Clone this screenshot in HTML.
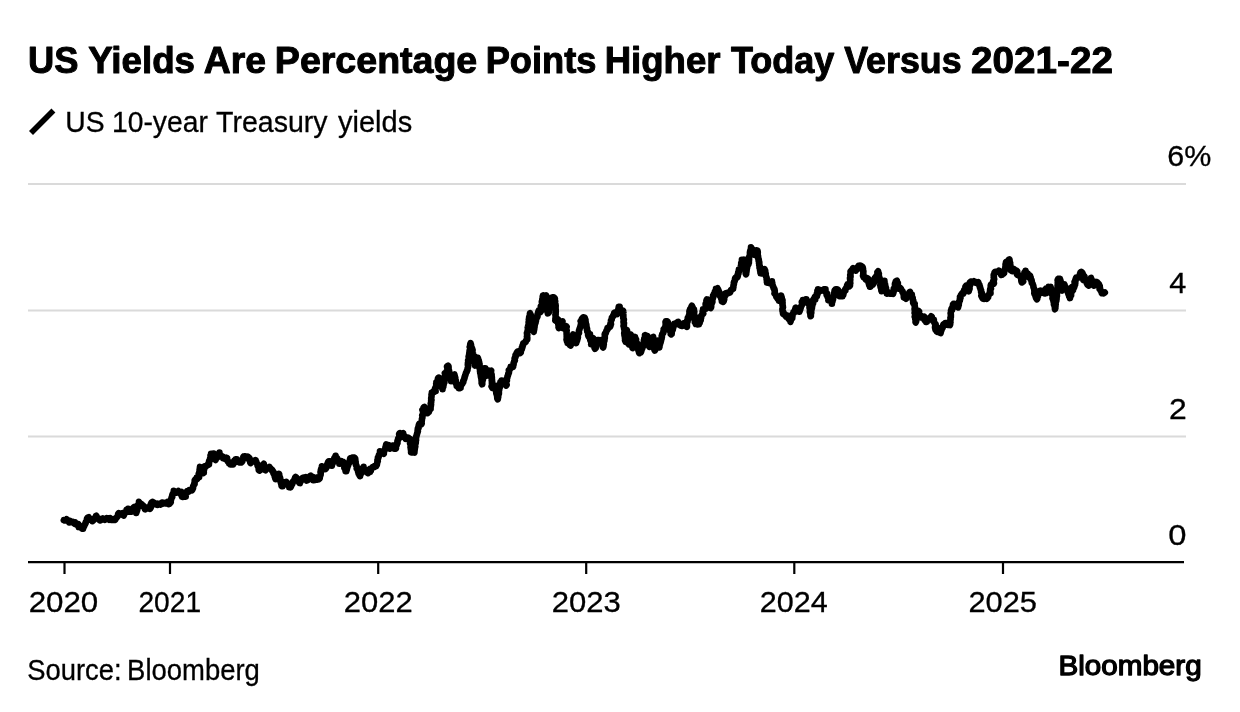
<!DOCTYPE html>
<html lang="en">
<head>
<meta charset="utf-8">
<title>US Yields Are Percentage Points Higher Today Versus 2021-22</title>
<style>
html,body{margin:0;padding:0;background:#fff;}
body{width:1240px;height:712px;overflow:hidden;position:relative;font-family:"Liberation Sans",Arial,Helvetica,sans-serif;color:#000;}
svg{position:absolute;left:0;top:0;display:block;}
text{font-family:"Liberation Sans",Arial,Helvetica,sans-serif;fill:#000;}
.title{font-weight:bold;font-size:37.2px;stroke:#000;stroke-width:1px;stroke-linejoin:round;}
.legend{font-size:30.2px;stroke:#000;stroke-width:0.3px;}
.tick{font-size:29.3px;stroke:#000;stroke-width:0.3px;}
.src{font-size:29.3px;stroke:#000;stroke-width:0.3px;}
.logo{font-size:27.5px;stroke:#000;stroke-width:1.3px;stroke-linejoin:round;}
</style>
</head>
<body>
<svg width="1240" height="712" viewBox="0 0 1240 712" role="img" aria-label="Line chart of US 10-year Treasury yields, 2020 to 2025">
<rect width="1240" height="712" fill="#fff"/>
<text class="title" y="73.4"><tspan x="27.93" textLength="50.45" lengthAdjust="spacingAndGlyphs">US</tspan> <tspan x="88.2" textLength="106.82" lengthAdjust="spacingAndGlyphs">Yields</tspan> <tspan x="203.76" textLength="62.21" lengthAdjust="spacingAndGlyphs">Are</tspan> <tspan x="274.85" textLength="202.42" lengthAdjust="spacingAndGlyphs">Percentage</tspan> <tspan x="485.7" textLength="110.78" lengthAdjust="spacingAndGlyphs">Points</tspan> <tspan x="604.71" textLength="115.78" lengthAdjust="spacingAndGlyphs">Higher</tspan> <tspan x="730.95" textLength="103.36" lengthAdjust="spacingAndGlyphs">Today</tspan> <tspan x="844.17" textLength="117.4" lengthAdjust="spacingAndGlyphs">Versus</tspan> <tspan x="971.07" textLength="141.82" lengthAdjust="spacingAndGlyphs">2021-22</tspan></text>
<line x1="31" y1="133.1" x2="53.4" y2="110.6" stroke="#000" stroke-width="5.6"/>
<text class="legend" y="131.7"><tspan x="65.37" textLength="39.36" lengthAdjust="spacingAndGlyphs">US</tspan> <tspan x="111.96" textLength="95.86" lengthAdjust="spacingAndGlyphs">10-year</tspan> <tspan x="216.1" textLength="111.53" lengthAdjust="spacingAndGlyphs">Treasury</tspan> <tspan x="337.97" textLength="74.17" lengthAdjust="spacingAndGlyphs">yields</tspan></text>
<g stroke="#dadada" stroke-width="2.2">
<line x1="28" y1="184" x2="1186" y2="184"/>
<line x1="28" y1="310.5" x2="1186" y2="310.5"/>
<line x1="28" y1="436.5" x2="1186" y2="436.5"/>
</g>
<path fill="none" stroke="#000" stroke-width="6.6" stroke-linejoin="round" stroke-linecap="round" d="M63.8,520.2 64.7,520.5 65.6,520.5 66.6,519.3 67.5,520.6 68.2,521.0 69.6,520.9 69.4,522.5 70.4,521.2 71.2,522.0 72.1,522.2 73.0,521.8
73.8,523.1 75.2,522.4 75.2,524.1 76.3,523.9 77.2,524.2 77.5,525.0 78.4,524.2 78.5,525.6 78.7,527.0 80.2,526.3 80.5,527.5 81.7,527.3
81.9,528.6 83.1,528.7 83.2,527.9 83.7,527.1 84.0,526.3 84.5,525.5 84.6,524.6 85.2,523.9 85.7,523.1 85.7,522.1 86.2,521.4 86.6,520.5
86.9,519.7 87.0,518.7 87.4,517.9 88.1,517.6 88.7,517.3 88.8,518.6 89.3,519.5 90.1,519.9 91.6,519.4 92.3,520.0 92.5,521.2 93.1,520.5
93.7,519.8 93.7,518.8 94.5,518.2 95.4,517.7 95.8,516.9 96.4,516.2 96.2,515.7 96.5,516.2 96.7,517.2 97.2,517.9 98.1,518.4 99.1,518.7
99.3,519.8 100.0,520.5 100.7,520.2 101.3,519.2 102.1,519.0 102.9,518.4 103.8,518.8 104.9,519.8 105.8,519.2 106.7,518.3 107.6,519.0 108.5,518.4
108.8,518.8 109.3,519.7 110.4,518.3 111.0,520.0 111.9,520.0 112.9,519.6 113.7,520.0 114.8,519.4 115.0,519.9 115.4,519.4 115.5,518.4 116.3,517.9
117.0,517.2 117.5,516.5 118.0,515.7 118.0,514.7 118.2,513.8 118.8,513.2 119.7,513.7 120.7,513.6 121.8,513.5 123.0,512.9 122.9,515.2 123.8,515.5
123.6,514.3 124.3,513.6 124.7,512.8 125.9,512.6 126.1,511.6 126.6,510.9 126.6,509.8 128.2,509.7 128.1,508.8 128.0,510.4 128.6,511.1 129.3,511.6
131.3,510.9 131.2,511.8 131.5,511.6 132.3,511.1 132.8,510.3 133.0,509.4 133.8,508.8 133.5,507.6 134.4,506.9 134.7,507.6 135.8,508.2 135.0,509.4
135.8,510.1 136.6,510.8 136.1,511.9 136.2,513.0 136.4,512.3 136.7,511.5 137.0,510.6 137.3,509.8 137.2,508.8 137.7,508.0 137.7,507.1 138.0,506.2
138.0,505.3 138.3,504.4 138.8,503.6 139.1,502.8 139.0,501.9 139.5,502.7 140.2,503.3 141.0,503.8 141.8,504.4 142.2,505.2 143.2,505.6 143.6,506.4
144.0,507.2 144.5,508.0 145.5,508.3 145.0,509.3 145.3,508.2 146.3,508.6 147.1,507.6 148.0,507.7 149.0,508.5 150.0,508.8 150.5,508.1 150.9,507.3
150.9,506.4 150.6,505.3 150.7,504.3 151.6,503.7 151.4,502.7 152.5,501.9 153.0,502.3 153.9,502.6 154.3,503.8 155.0,504.2 156.3,503.9 157.5,503.6
157.5,504.9 158.4,503.8 159.5,504.4 160.5,504.7 161.2,503.7 161.9,502.6 162.5,503.8 162.9,502.6 163.9,503.1 164.8,502.9 165.7,503.5 166.6,502.9
167.4,502.1 168.5,504.1 169.4,504.0 170.0,503.1 170.8,502.2 170.5,501.2 170.9,500.3 171.1,499.5 171.4,498.6 171.5,497.7 172.3,497.0 172.1,496.0
172.3,495.1 172.7,494.3 173.0,493.5 173.8,492.8 173.8,491.8 173.8,490.7 174.4,491.2 175.1,491.8 175.9,492.3 176.7,492.6 178.3,491.1 178.7,492.4
179.7,492.5 180.0,493.1 181.6,492.0 181.5,493.4 181.3,494.9 181.8,495.7 182.0,496.8 182.7,496.9 183.8,496.8 184.3,496.6 185.7,496.6 185.7,495.4
185.5,494.1 186.0,493.3 186.1,492.3 187.5,492.2 187.5,491.0 189.2,491.3 189.4,490.1 190.2,490.2 191.0,489.7 192.1,490.2 192.5,489.3 193.0,488.3
193.1,487.3 193.1,486.4 193.5,485.6 194.0,484.8 194.6,484.0 194.4,483.0 194.7,482.2 194.7,481.3 194.7,480.3 195.0,480.0 195.2,479.5 196.4,479.4
197.3,479.0 196.9,477.4 197.9,477.1 199.1,477.0 198.8,476.2 198.8,475.7 199.1,474.8 198.7,473.8 199.3,473.0 199.3,472.1 199.8,471.3 199.6,470.3
199.6,469.4 200.1,468.6 199.9,467.6 200.0,466.9 200.5,467.8 200.7,468.7 201.9,469.1 202.2,470.0 201.7,471.2 202.2,472.0 202.4,472.9 203.1,473.1
203.8,472.8 203.6,471.9 203.8,471.0 203.8,470.0 204.2,469.2 203.5,468.1 204.7,467.5 204.2,466.4 205.0,466.2 205.5,466.2 206.4,466.0 207.0,465.2
208.1,465.0 208.9,464.5 208.4,463.4 209.2,462.7 209.1,461.7 209.1,460.8 210.0,460.1 210.6,459.3 210.0,458.8 210.2,458.3 210.7,457.5 210.6,456.5
210.5,455.4 211.1,454.7 211.1,453.7 212.5,453.8 213.7,453.6 213.6,454.7 213.8,455.6 213.7,456.6 214.8,457.1 214.1,458.5 214.7,459.2 215.6,459.9
215.8,459.2 215.9,458.2 217.0,457.8 216.7,456.6 217.2,455.9 217.8,455.2 218.1,454.3 219.1,453.8 219.4,452.9 219.4,452.6 219.3,453.4 219.6,454.2
220.3,454.9 221.0,455.5 221.3,456.4 222.7,456.6 223.0,457.4 223.1,458.1 223.3,457.6 224.4,458.6 225.2,458.2 226.2,457.6 227.0,458.0 226.2,459.5
227.5,459.8 227.6,460.8 227.9,461.6 228.8,461.9 229.0,463.4 230.1,463.5 230.4,464.4 231.9,464.3 233.2,464.4 233.6,463.5 233.6,462.4 234.0,461.5
234.3,460.6 235.4,460.4 235.6,459.3 236.2,459.4 236.9,459.4 237.1,460.6 237.4,461.6 238.5,461.7 239.4,462.4 240.2,462.5 241.1,462.5 241.9,461.9
242.4,461.2 242.0,460.1 243.0,459.5 243.3,458.7 244.4,458.1 243.4,456.8 243.8,456.3 244.1,456.3 245.1,456.2 245.9,456.6 246.8,456.9 247.7,456.6
248.1,456.9 248.5,457.3 249.3,457.9 248.7,459.1 249.3,459.8 250.2,460.5 250.3,461.4 250.2,462.4 250.6,463.1 250.8,461.6 251.7,461.3 252.4,460.7
253.5,460.8 254.7,461.1 255.4,460.5 255.6,460.1 255.8,460.6 256.2,461.4 256.2,462.4 256.7,463.2 257.3,463.9 257.7,464.7 257.6,465.7 258.1,466.5
258.4,467.3 258.8,468.2 258.7,469.1 258.7,470.1 259.4,470.6 260.4,470.0 259.9,468.6 261.2,468.3 261.9,467.7 262.3,466.9 262.0,465.6 262.7,465.0
263.4,464.4 263.8,463.8 263.6,464.9 264.0,465.8 264.7,466.6 264.8,467.5 263.5,468.6 264.4,469.4 265.0,469.9 265.5,470.2 265.3,468.2 266.5,468.4
267.5,468.2 268.7,468.5 269.1,467.4 269.4,466.9 269.3,467.4 269.8,468.1 270.8,468.5 271.2,469.4 272.2,469.8 272.2,470.9 272.5,471.2 273.2,471.4
273.6,472.2 273.4,473.3 273.9,474.0 274.3,474.8 274.8,475.6 274.7,476.6 275.1,477.4 275.6,478.2 275.6,479.3 275.2,478.1 275.8,477.4 276.2,476.7
277.0,476.1 277.4,475.2 278.5,474.9 278.9,474.1 279.0,473.8 279.2,474.4 279.2,475.3 279.3,476.2 279.8,477.0 280.1,477.9 280.3,478.7 280.2,479.7
280.7,480.5 280.8,481.4 280.7,482.3 281.0,483.2 281.3,484.1 281.5,484.9 281.5,485.8 281.9,486.2 282.7,486.3 283.0,485.4 283.8,484.9 283.3,483.2
283.7,482.2 285.1,482.3 286.2,481.9 286.7,482.4 287.2,483.1 287.6,483.9 288.9,484.1 289.6,484.7 289.6,485.8 289.3,487.3 290.6,487.4 290.9,486.6
291.3,485.8 291.5,484.9 292.2,484.2 292.5,483.4 292.7,482.5 292.9,481.6 293.7,481.0 294.3,480.3 294.5,479.3 294.9,478.5 295.1,477.6 295.6,476.9
296.3,477.5 296.3,478.6 297.2,479.1 298.5,479.3 298.7,480.2 298.8,481.3 299.0,482.2 299.5,483.0 300.0,483.1 300.1,482.6 300.0,481.4 300.9,480.9
301.6,480.3 301.2,478.9 302.1,478.5 302.7,477.7 303.8,477.6 305.6,477.2 305.9,478.2 306.1,479.3 306.8,479.8 306.9,480.6 307.2,480.4 308.1,479.9
308.4,479.1 309.1,478.4 309.8,477.9 309.9,476.8 310.2,475.9 310.6,475.7 310.5,476.5 311.2,477.1 312.7,476.8 312.5,478.3 312.9,479.2 313.2,480.2
315.0,479.9 315.6,479.5 317.1,479.6 316.5,477.9 316.9,477.6 317.4,477.5 318.4,477.5 318.6,479.3 319.4,478.7 319.7,478.4 319.8,477.5 319.9,476.6
320.3,475.7 320.6,474.9 320.7,474.0 320.7,473.1 320.5,472.1 320.8,471.2 320.8,470.3 321.0,469.5 321.3,468.6 321.6,467.7 321.8,466.9 321.9,466.3
322.0,466.6 321.9,468.0 323.3,467.9 324.7,467.8 325.0,468.8 325.0,469.3 325.0,468.7 326.1,468.2 325.9,467.2 326.7,466.5 326.6,465.5 327.1,464.7
327.4,463.9 328.1,463.2 328.0,462.2 328.8,461.3 329.9,461.4 330.2,462.3 330.6,463.1 330.3,464.4 330.3,465.5 331.9,465.6 332.0,464.8 332.3,464.0
332.6,463.1 333.3,462.4 333.8,461.7 333.7,460.7 334.2,459.9 334.1,458.9 334.4,458.0 334.9,457.3 335.5,456.5 335.6,455.7 335.6,456.8 336.3,457.5
337.1,458.1 337.4,459.0 337.6,459.8 337.8,460.7 338.0,461.6 338.8,462.2 339.4,463.0 339.4,463.7 340.3,462.9 341.0,462.4 341.4,461.2 343.2,462.7
343.1,461.9 343.6,462.4 342.9,463.5 343.5,464.3 344.0,465.1 344.3,465.9 344.8,466.7 344.3,467.8 344.7,468.6 345.4,469.4 345.8,470.2 345.6,471.2
346.2,471.2 346.2,470.9 346.7,470.1 346.8,469.2 347.1,468.4 347.3,467.5 347.6,466.6 347.9,465.8 348.3,465.0 348.4,464.0 349.0,463.3 349.4,462.5
349.6,461.6 349.7,460.7 350.0,459.8 350.0,459.4 350.2,458.5 350.9,458.0 352.0,458.2 352.5,457.5 353.4,457.5 354.4,457.6 355.2,458.6 355.3,459.5
355.4,460.4 355.3,461.3 355.7,462.1 355.5,463.2 355.9,464.0 355.9,464.9 356.5,465.7 356.7,466.5 356.9,467.5 356.7,468.5 357.7,469.1 357.6,470.0
358.4,470.7 358.1,471.8 358.5,472.6 358.5,473.5 359.6,474.1 359.4,475.1 359.9,475.9 360.0,476.2 359.7,475.5 360.4,474.7 360.4,473.8 361.4,473.2
361.4,472.3 362.0,471.5 362.1,470.6 362.4,469.7 362.9,469.0 362.7,467.9 363.5,467.3 363.5,466.9 363.1,467.9 363.5,468.7 364.6,469.0 364.6,470.1
365.2,470.8 366.1,471.2 367.0,471.8 367.3,472.6 368.1,473.1 368.7,472.4 369.9,472.1 369.5,470.7 370.8,470.6 370.0,468.8 371.3,468.7 371.9,468.1
372.5,467.1 373.6,467.4 374.4,467.0 374.9,465.9 376.2,466.2 376.4,465.5 376.9,464.7 377.0,463.8 377.2,462.9 377.3,462.0 377.8,461.2 377.4,460.2
377.8,459.3 378.1,458.5 377.9,457.5 378.7,456.8 378.8,455.9 378.9,455.0 379.5,454.2 379.8,453.3 380.1,452.5 380.0,451.3 380.3,452.1 381.5,451.9
382.2,452.4 383.0,452.9 383.8,453.7 383.3,452.9 383.6,452.0 384.2,451.2 384.4,450.3 384.8,449.5 385.7,448.8 385.4,447.8 385.5,446.9 386.0,446.1
386.0,445.2 386.2,444.4 386.9,445.1 388.3,445.1 388.2,446.3 388.9,446.9 388.8,448.2 389.9,448.4 390.0,448.7 390.1,447.9 391.3,447.7 392.3,447.4
392.4,446.3 392.5,445.7 393.1,445.5 394.4,445.6 394.7,446.5 394.7,447.8 394.5,448.8 395.6,448.7 396.0,448.3 395.9,447.3 395.9,446.4 395.8,445.4
396.8,444.8 396.9,443.9 397.5,443.1 397.4,442.1 397.4,441.2 397.7,440.3 398.3,439.6 398.1,438.8 398.7,437.8 400.2,437.4 399.6,436.2 399.3,435.2
399.1,434.2 399.5,433.3 400.0,433.1 400.5,433.5 401.4,433.8 402.3,433.6 403.1,433.1 403.3,434.1 403.7,434.9 404.1,435.7 404.6,436.5 405.2,437.2
405.3,438.1 405.6,438.7 405.5,437.9 406.8,438.6 407.8,438.5 408.1,437.6 407.6,439.2 409.9,439.0 410.8,439.5 410.0,441.2 410.1,441.9 410.0,442.8
410.1,443.7 410.6,444.5 410.9,445.4 410.7,446.3 410.5,447.3 411.0,448.1 410.8,449.0 411.2,449.9 411.0,450.8 411.6,451.7 411.2,452.4 412.4,452.4
413.1,451.9 414.4,452.5 414.4,451.2 414.6,450.8 414.6,449.9 414.8,449.0 414.8,448.1 415.1,447.3 415.3,446.4 414.9,445.4 415.1,444.6 415.5,443.7
415.8,442.8 415.5,441.9 415.8,441.0 416.1,440.1 415.9,439.2 415.9,438.3 416.2,437.5 416.2,436.5 416.6,435.7 416.7,434.8 417.1,433.9 417.2,433.0
417.6,432.2 417.9,431.3 417.6,430.4 417.9,429.5 417.8,428.6 418.6,427.8 418.4,426.9 418.7,426.0 418.8,425.0 419.3,423.8 420.4,424.3 421.2,424.4
421.7,423.4 421.4,422.5 421.7,421.6 421.8,420.7 421.9,419.8 421.9,418.9 422.3,418.1 422.4,417.2 422.5,416.3 422.2,415.3 423.0,414.5 422.9,413.6
423.1,412.5 423.5,411.9 422.8,410.8 422.4,409.8 423.6,409.1 424.1,408.3 424.8,407.6 424.4,406.9 423.6,407.7 423.9,408.5 425.4,408.8 425.5,409.7
426.7,410.1 426.9,411.1 426.4,412.3 427.9,412.6 427.5,413.1 427.7,412.5 428.7,412.1 428.0,410.5 429.4,410.4 429.1,409.0 430.6,408.8 430.5,408.1
430.6,407.2 430.8,406.3 430.9,405.4 431.1,404.5 430.7,403.6 431.1,402.7 431.2,401.8 431.1,400.9 431.5,400.0 431.2,399.1 431.2,398.2 431.4,397.3
431.5,396.4 431.6,395.5 431.5,394.6 431.9,393.8 432.0,392.9 431.9,392.5 432.7,393.0 433.2,391.7 434.2,392.0 434.9,391.3 435.6,391.2 435.4,390.1
435.0,389.1 435.1,388.2 435.7,387.4 436.7,386.5 436.1,385.6 436.5,384.7 436.2,383.8 437.1,383.2 436.5,382.0 438.0,381.6 437.6,380.5 438.0,379.7
437.9,378.7 438.3,377.8 438.8,377.6 439.2,378.0 439.3,378.9 439.4,379.8 439.7,380.6 439.6,381.6 440.3,382.3 440.9,383.1 441.1,384.0 440.8,385.0
441.0,385.9 441.2,386.8 442.0,387.5 442.5,388.2 442.5,389.3 442.3,388.4 442.8,387.6 443.3,386.8 443.1,385.8 443.6,385.0 443.6,384.1 443.8,383.2
444.4,382.4 444.4,381.5 444.5,380.6 444.3,379.7 444.5,378.8 445.0,378.0 445.0,377.5 445.2,377.1 444.8,376.0 445.8,375.4 445.9,374.5 444.9,373.2
446.7,372.9 446.9,372.5 446.2,371.9 447.5,371.2 447.5,370.3 448.3,369.5 448.3,368.6 447.2,367.5 447.0,366.5 448.1,365.7 448.5,366.4 448.6,367.3
448.5,368.3 448.6,369.1 448.9,370.0 449.1,370.9 449.2,371.8 449.2,372.7 449.5,373.6 449.5,374.5 450.2,375.3 449.9,376.2 450.3,377.1 450.4,378.0
450.8,378.8 450.8,379.7 451.2,380.6 451.2,381.2 451.3,380.9 450.8,379.7 451.6,379.1 452.3,378.4 453.3,377.9 453.0,376.8 453.9,376.2 454.6,375.5
454.4,374.4 454.2,375.3 454.8,376.1 455.0,377.0 455.3,377.9 454.9,378.9 455.3,379.7 455.8,380.5 455.8,381.4 456.0,382.3 455.8,383.3 456.6,384.0
456.5,385.0 457.2,385.7 456.9,386.2 457.4,386.3 458.2,386.8 459.1,387.0 458.9,388.2 460.0,388.1 460.6,387.8 460.5,386.8 460.8,386.0 461.1,385.1
461.6,384.4 462.4,383.7 462.7,382.9 463.3,382.2 463.2,381.1 463.6,380.3 463.8,380.0 464.0,379.5 464.3,378.7 464.6,377.8 464.6,376.9 465.0,376.1
465.3,375.2 465.6,374.4 465.8,373.5 466.1,372.6 466.7,371.9 466.8,371.0 467.5,370.0 467.5,369.3 467.6,368.4 467.9,367.6 468.1,366.7 468.1,365.8
467.8,364.8 467.9,363.9 467.9,363.0 468.6,362.2 468.3,361.3 468.1,360.4 468.7,359.5 468.8,358.6 468.9,357.7 468.6,356.8 468.8,355.9 469.2,355.0
469.2,354.1 469.3,353.2 469.4,352.5 469.6,351.5 469.6,350.6 470.3,349.7 470.4,348.8 470.4,347.9 469.7,346.9 470.1,346.1 470.3,345.2 470.2,344.3
470.6,343.2 470.7,343.9 471.0,344.7 471.1,345.6 470.9,346.6 471.6,347.4 472.0,348.2 472.2,349.1 472.6,349.9 472.5,350.8 472.2,351.8 472.5,352.7
472.9,353.5 473.1,353.8 473.2,354.4 473.4,355.3 473.5,356.1 473.8,357.0 474.0,357.9 473.9,358.8 474.1,359.7 474.4,360.6 474.2,361.5 474.2,362.4
474.6,363.3 474.7,364.2 474.9,365.1 475.0,365.6 475.3,365.3 475.7,364.5 474.9,363.4 475.0,362.5 475.8,361.7 475.9,360.8 476.3,360.0 476.3,359.1
476.4,358.2 476.2,357.6 475.7,358.5 477.8,357.8 478.1,358.8 478.3,359.8 478.8,360.6 478.9,361.5 479.2,362.3 479.2,363.2 479.6,364.1 479.2,365.1
479.3,366.0 479.9,366.8 479.8,367.7 479.7,368.6 479.9,369.5 480.1,370.4 480.0,371.2 480.3,372.2 480.2,373.1 480.7,373.9 480.7,374.8 480.8,375.7
480.9,376.6 481.1,377.5 481.3,378.4 481.5,379.3 481.5,380.2 481.6,381.1 481.8,382.0 481.6,382.9 481.9,383.8 482.1,384.3 482.3,384.0 482.2,383.1
482.2,382.2 482.5,381.3 482.5,380.4 483.0,379.5 482.9,378.6 483.3,377.8 483.3,376.9 483.3,375.9 483.0,375.0 483.1,374.1 483.3,373.2 483.6,372.3
483.7,371.5 483.8,370.6 484.2,369.7 484.0,368.8 484.4,368.2 485.2,368.2 484.8,369.3 485.4,370.1 484.7,371.2 485.6,371.9 485.8,372.8 486.7,373.4
486.3,374.5 486.8,375.3 486.9,375.6 487.9,375.4 487.7,374.3 488.7,373.8 489.5,373.1 488.5,371.7 488.5,370.8 488.8,370.6 489.4,371.1 490.3,371.1
491.2,370.6 490.9,371.5 490.9,372.4 491.1,373.3 491.5,374.2 491.7,375.1 491.4,376.0 491.8,376.9 491.9,377.8 491.7,378.7 492.0,379.6 491.7,380.5
492.2,381.4 491.9,382.3 491.9,383.2 492.0,384.1 492.1,385.0 492.6,385.9 492.6,386.8 492.7,387.7 492.5,388.1 491.6,386.5 492.7,386.3 493.5,385.9
495.4,386.6 495.0,385.7 495.0,386.3 495.4,387.2 495.5,388.0 495.7,388.9 495.9,389.8 496.2,390.7 496.2,391.6 496.2,392.5 496.3,393.4 496.8,394.2
496.8,395.1 497.2,396.0 497.3,396.9 497.2,397.8 497.4,398.7 497.8,399.3 497.9,398.2 498.2,397.3 498.2,396.4 498.3,395.5 498.5,394.6 498.9,393.8
498.9,392.9 498.9,392.0 498.8,391.0 499.1,390.2 499.3,389.3 499.0,388.3 499.8,387.5 499.7,386.6 500.1,385.8 499.8,384.8 500.0,383.8 501.1,383.8
500.5,382.0 501.5,381.6 501.6,380.6 503.1,380.7 504.6,380.8 504.4,382.0 504.5,383.0 504.3,384.2 505.2,384.7 506.7,384.8 506.2,385.6 506.0,385.1
506.5,384.2 506.3,383.3 506.2,382.4 506.2,381.5 506.9,380.7 506.4,379.7 506.9,378.9 507.2,378.0 507.4,377.1 507.5,376.2 508.0,375.4 508.2,374.5
508.3,373.6 508.9,372.9 509.0,372.0 509.0,371.0 508.8,370.0 509.8,369.4 510.3,368.6 510.5,367.7 510.6,366.9 511.6,367.5 512.5,366.6 513.1,366.8
512.7,366.4 512.8,365.5 513.6,364.8 513.6,363.8 513.6,362.9 514.0,362.1 514.3,361.2 514.9,360.5 514.6,359.5 514.6,358.5 515.0,357.5 515.6,357.0
515.7,356.1 515.5,355.0 516.7,354.5 516.4,353.4 516.9,352.7 517.3,351.8 518.1,351.3 518.8,352.0 520.1,351.9 520.0,353.1 520.8,352.3 520.6,351.2
520.8,350.4 521.5,349.7 521.9,348.9 521.8,347.8 522.5,347.2 522.4,346.2 522.6,345.3 523.1,345.0 523.1,344.5 523.2,343.5 524.0,342.9 525.0,342.4
525.7,341.8 525.8,340.8 526.3,340.1 527.2,339.6 526.9,338.8 527.3,338.4 527.3,337.5 526.9,336.6 527.2,335.7 527.3,334.8 527.0,333.9 526.9,333.0
527.5,332.1 527.5,331.2 527.7,330.3 528.0,329.5 528.2,328.6 527.7,327.6 528.0,326.7 528.1,326.2 528.4,325.9 528.4,325.0 528.7,324.1 528.7,323.2
528.6,322.3 528.8,321.4 529.2,320.6 528.8,319.6 529.1,318.7 529.1,317.8 529.2,316.9 529.6,316.1 530.2,315.2 530.3,314.3 530.0,313.2 529.9,313.9
530.7,314.7 530.9,315.6 531.2,316.4 530.7,317.5 530.6,318.4 531.2,319.2 531.1,320.1 531.1,321.1 531.9,321.2 531.9,321.8 532.0,322.7 532.0,323.6
532.5,324.4 532.6,325.3 532.6,326.2 532.9,327.1 533.0,328.0 533.5,328.8 533.7,329.7 533.4,330.7 533.7,331.5 533.8,331.8 533.8,331.2 533.9,330.3
534.2,329.4 534.3,328.5 534.4,327.6 534.6,326.7 534.4,325.8 534.8,325.0 534.8,324.0 535.4,323.2 535.6,322.4 535.6,321.2 536.0,320.6 535.9,319.7
536.2,318.8 536.7,318.0 537.1,317.2 537.5,316.4 537.4,315.4 537.5,314.5 537.8,313.6 538.5,312.9 538.2,311.9 538.6,311.1 538.8,310.3 539.9,310.7
541.3,310.6 540.4,312.1 540.3,311.7 540.5,310.8 541.8,310.2 541.7,309.2 542.0,308.4 541.3,307.3 540.8,306.3 541.4,305.5 541.9,305.0 542.0,304.7
542.1,303.8 542.4,302.9 541.8,301.9 542.0,301.0 542.5,300.2 542.3,299.3 542.9,298.4 542.7,297.5 542.7,296.6 543.2,295.8 543.1,295.4 543.7,296.1
544.6,296.7 545.5,296.4 546.2,295.4 546.0,296.5 546.3,297.4 546.5,298.2 546.6,299.1 546.6,300.0 546.8,300.9 546.8,301.8 546.9,302.7 547.0,303.6
546.9,304.5 547.2,305.4 547.4,306.3 547.5,307.2 547.8,308.1 547.5,309.0 547.3,309.9 547.3,310.8 547.5,311.7 547.7,312.6 547.8,313.3 548.9,312.5
549.0,311.6 548.9,310.6 548.5,309.5 549.3,308.8 549.9,308.1 550.0,307.5 550.3,307.3 550.0,306.3 550.7,305.5 550.5,304.6 550.4,303.6 550.7,302.8
551.1,301.9 550.9,301.0 551.5,300.2 551.6,299.3 552.3,298.5 551.9,297.5 552.8,297.4 553.7,297.4 554.4,297.7 554.9,298.7 554.6,299.7 554.9,300.6
555.2,301.4 554.6,302.4 555.1,303.3 555.3,304.1 555.6,305.0 555.7,305.9 555.6,306.8 555.6,307.7 555.6,308.6 555.7,309.5 555.6,310.4 555.8,311.3
555.7,312.2 555.6,313.1 555.7,314.0 555.4,314.9 555.6,315.8 555.6,316.7 555.6,317.6 555.4,318.5 555.6,319.4 555.3,320.3 555.6,320.6 556.5,321.2
557.3,320.6 557.5,319.1 558.1,319.4 558.2,319.9 558.5,320.8 558.1,321.7 558.4,322.6 558.6,323.5 558.3,324.4 558.6,325.3 559.0,326.2 558.5,327.1
558.8,328.1 559.2,327.4 559.7,326.7 559.9,325.8 560.4,325.0 560.4,324.0 560.6,323.0 561.2,322.3 561.8,321.6 562.5,321.3 562.2,321.6 562.3,322.5
562.1,323.4 562.7,324.3 563.0,325.1 563.0,326.0 562.6,327.0 562.6,327.9 563.1,328.1 564.1,328.6 564.5,327.5 565.5,327.5 565.8,326.1 566.2,326.3
566.7,326.9 566.2,327.8 566.3,328.7 566.5,329.6 566.7,330.5 566.4,331.4 566.6,332.3 566.6,333.2 566.6,334.1 566.7,335.0 566.7,335.9 566.7,336.8
566.8,337.7 566.7,338.6 566.5,339.6 566.8,340.4 566.9,341.2 567.7,341.9 567.6,343.2 568.6,343.5 569.9,343.6 569.8,344.9 570.6,345.6 570.6,344.9
571.4,344.1 571.4,343.2 571.6,342.4 571.9,341.5 572.0,340.6 572.2,339.7 572.0,338.8 572.1,337.9 572.5,337.0 572.8,336.2 572.9,335.3 573.1,334.4
573.5,335.2 573.4,336.2 574.2,336.9 574.4,337.8 574.5,338.7 575.1,339.4 574.9,340.5 575.3,341.3 575.5,342.1 576.2,343.1 576.3,342.4 576.6,341.6
577.0,340.8 577.2,339.9 577.5,339.0 577.7,338.1 577.9,337.3 577.8,336.3 577.7,335.4 578.1,334.5 578.4,333.7 579.0,332.9 578.8,332.5 578.9,331.9
578.9,331.0 579.1,330.2 579.5,329.3 579.7,328.4 580.1,327.6 580.5,326.8 580.5,325.8 580.8,325.0 581.0,324.1 581.0,323.2 581.2,322.3 581.2,321.9
580.7,321.2 582.1,320.8 581.6,319.6 582.0,318.8 582.6,318.0 582.9,317.8 583.3,317.4 584.5,317.5 584.9,318.2 585.1,319.0 585.5,319.9 585.2,320.8
585.6,321.7 585.7,322.6 585.7,323.5 586.2,324.3 586.4,325.2 586.4,326.1 586.6,327.0 586.7,327.9 587.1,328.7 586.9,329.7 587.2,330.0 587.2,330.5
587.2,331.5 588.1,332.2 588.1,333.1 588.1,334.0 588.1,335.0 588.3,335.8 588.8,336.8 588.7,335.9 590.0,335.6 590.0,334.4 590.0,335.2 590.4,336.0
589.9,337.0 590.1,337.9 590.4,338.7 590.2,339.7 590.5,340.6 590.9,341.4 591.3,342.3 591.4,343.2 591.2,344.3 591.5,343.7 592.1,342.9 592.4,342.1
592.4,341.1 592.5,340.2 592.7,339.3 592.8,338.4 593.1,338.2 593.2,338.8 593.6,339.6 593.4,340.6 593.7,341.4 594.2,342.3 594.0,343.2 594.1,344.1
594.4,345.0 594.4,345.9 594.8,346.7 594.5,347.7 595.0,348.7 595.7,348.1 595.8,347.2 595.6,346.2 595.8,345.4 596.7,344.7 596.6,343.7 596.6,342.8
597.3,342.1 597.3,341.1 597.5,340.1 598.8,340.1 598.7,341.3 599.5,341.8 599.1,343.3 600.0,343.1 599.3,342.1 600.0,341.5 600.6,340.8 601.2,340.1
601.9,340.1 601.6,340.7 601.8,341.6 602.2,342.4 602.5,343.3 602.6,344.2 602.2,345.1 602.9,345.9 602.7,346.9 603.1,347.4 603.3,347.1 603.5,346.2
603.5,345.3 603.8,344.4 603.7,343.5 603.8,342.6 603.7,341.7 604.4,340.9 604.5,340.0 604.4,339.1 604.8,338.2 604.8,337.3 604.8,336.4 604.8,335.5
605.0,335.0 604.7,334.5 604.9,333.6 605.9,333.0 606.0,332.1 606.3,331.2 606.6,330.4 607.4,329.7 607.4,328.8 607.5,327.8 608.1,327.6 608.7,327.8
609.3,327.1 610.0,326.8 610.5,325.8 610.2,324.8 611.0,324.1 610.6,323.0 610.8,322.2 610.9,321.3 611.0,320.4 611.7,319.6 611.8,318.7 612.0,317.8
611.9,317.5 612.5,317.1 613.0,316.4 613.2,315.4 613.8,314.7 613.9,313.8 614.7,313.2 614.4,312.6 614.8,312.9 614.9,314.3 616.0,314.3 616.9,314.3
617.5,313.3 617.7,312.5 617.5,311.5 618.4,310.8 618.1,309.8 618.7,309.0 618.6,308.0 618.9,307.2 618.8,306.7 619.6,306.8 618.8,308.2 619.9,308.7
620.6,309.3 620.2,310.5 620.6,310.6 621.2,310.6 622.1,311.9 623.1,310.7 623.2,311.5 623.4,312.4 623.1,313.4 623.2,314.2 623.4,315.1 623.1,316.1
623.4,316.9 623.2,317.9 623.6,318.7 623.9,319.6 623.7,320.5 623.5,321.4 623.5,322.3 624.0,323.2 623.7,324.1 623.9,325.0 623.5,325.9 623.8,326.8
624.0,327.5 624.1,328.6 624.5,329.5 624.5,330.4 624.6,331.3 624.4,332.2 624.2,333.1 624.8,334.0 624.4,334.9 624.6,335.8 625.1,336.7 624.9,337.6
625.0,338.5 625.4,339.3 625.0,340.3 625.4,341.1 625.6,341.8 625.9,340.7 625.8,339.8 625.9,338.9 625.9,338.0 626.1,337.1 626.1,336.2 626.1,335.3
626.7,334.4 626.6,333.5 626.7,332.6 627.0,331.8 627.1,330.9 626.9,330.1 627.0,331.2 626.9,332.1 627.3,332.9 627.4,333.8 627.4,334.7 627.6,335.6
627.7,336.5 627.8,337.4 628.0,338.3 627.9,339.2 628.2,340.1 628.3,341.0 628.6,341.8 628.7,342.7 628.5,343.7 628.8,344.3 629.3,343.2 628.9,342.3
629.2,341.4 629.0,340.4 629.7,339.6 630.2,338.8 630.5,338.0 630.5,337.0 630.1,336.1 630.2,335.2 630.6,334.4 630.9,335.3 631.1,336.2 631.1,337.1
631.8,337.9 631.5,338.9 631.7,339.8 631.4,340.7 631.6,341.6 631.6,342.5 632.2,343.3 631.9,344.3 632.4,345.1 632.4,346.0 632.3,347.0 632.7,347.8
632.5,348.1 632.4,347.4 632.5,346.5 633.3,345.8 633.6,344.9 633.6,344.0 633.9,343.1 633.6,342.1 634.1,341.3 634.4,340.5 634.8,339.7 634.7,338.7
634.8,337.8 635.0,336.9 634.8,337.8 635.4,338.6 636.1,339.4 636.0,340.3 635.9,341.3 636.2,342.1 636.9,342.9 636.5,343.9 637.0,344.7 636.9,345.0
637.2,345.6 637.4,346.5 637.5,347.4 638.4,348.0 638.4,349.0 638.3,350.0 638.5,350.8 639.0,351.6 639.0,352.6 639.4,353.1 639.2,352.7 640.7,352.5
641.1,351.7 641.4,350.8 641.4,349.8 641.3,348.7 642.4,348.3 642.5,347.5 642.9,346.5 643.4,345.7 643.2,344.7 643.2,343.8 643.4,342.9 643.9,342.1
644.1,341.2 643.9,340.3 644.5,339.5 644.3,338.5 644.8,337.7 645.0,336.8 645.2,335.9 645.0,335.1 645.8,335.8 646.3,336.8 647.5,336.2 647.5,337.2
647.6,338.1 648.1,338.9 648.1,339.8 648.1,340.7 648.4,341.6 648.9,342.4 649.0,343.3 649.0,344.3 649.1,345.1 649.0,346.1 649.4,346.8 649.9,345.9
650.1,345.0 650.6,344.2 650.6,343.3 651.5,342.6 651.7,341.8 651.6,340.8 652.3,340.1 652.6,339.2 653.0,338.4 653.2,337.5 653.1,336.9 653.0,337.3
653.2,338.1 653.3,339.0 653.4,339.9 653.7,340.8 653.4,341.7 653.6,342.6 653.8,343.5 653.9,344.4 654.1,345.3 654.2,346.2 654.4,347.1 654.5,348.0
654.5,348.9 654.4,349.8 654.8,350.6 655.3,349.8 654.9,348.7 655.7,348.0 655.5,347.0 656.3,346.3 656.2,345.3 656.5,344.5 656.9,343.7 657.4,342.9
657.5,342.0 657.7,341.1 657.5,340.7 658.0,341.2 657.7,342.2 658.9,342.8 658.6,343.8 658.7,344.7 659.2,345.5 659.2,346.4 659.4,347.4 659.5,346.6
659.5,345.7 659.5,344.7 660.1,344.0 660.1,343.0 660.7,342.2 660.7,341.3 661.1,340.5 661.1,339.6 661.6,338.7 661.7,337.8 661.9,337.0 661.7,336.0
662.1,335.2 662.2,334.3 662.5,333.8 662.7,333.5 663.3,332.8 663.4,331.8 663.4,330.9 664.5,330.3 663.8,329.1 664.4,328.8 664.9,328.5 664.8,327.5
665.3,326.8 665.9,326.0 665.9,325.0 665.6,324.0 666.0,323.2 665.5,322.1 665.8,321.2 666.9,321.3 667.7,321.7 667.9,322.6 667.7,323.6 668.0,324.4
667.9,325.4 668.4,326.2 668.9,327.0 669.1,327.9 669.3,328.8 669.7,329.5 670.1,330.4 670.1,331.3 670.6,332.1 670.9,332.9 670.7,334.0 671.2,334.3
671.7,334.0 671.7,333.1 671.8,332.2 671.7,331.2 672.4,330.5 672.8,329.6 672.9,328.7 673.2,327.9 673.0,326.9 673.3,326.0 673.9,325.3 674.4,324.5
674.4,323.8 676.0,324.3 676.6,323.5 677.0,322.5 677.8,322.0 678.1,321.9 678.0,322.6 679.0,323.1 678.7,324.3 680.5,324.3 680.5,325.3 680.6,325.6
681.6,325.9 682.7,325.9 683.0,324.8 683.7,324.2 683.8,323.2 684.7,323.9 684.9,324.9 686.4,324.9 686.2,326.1 686.9,326.8 687.0,325.9 686.7,325.0
687.0,324.1 686.9,323.2 687.2,322.3 687.6,321.5 687.1,320.5 687.6,319.6 688.1,319.4 688.3,318.8 687.8,317.8 688.4,317.0 688.8,316.2 689.0,315.3
689.2,314.4 689.9,313.7 689.5,312.7 689.4,311.7 689.5,310.8 690.0,310.0 690.1,309.1 690.7,308.4 692.3,308.1 691.4,306.7 691.9,305.7 691.8,306.5
692.6,307.1 692.0,308.3 692.5,309.1 693.9,309.5 693.5,310.6 693.8,311.2 694.3,311.4 694.2,312.3 693.9,313.3 693.9,314.2 694.4,315.0 694.1,316.0
694.4,316.8 694.7,317.7 695.1,318.6 694.5,319.5 695.0,320.4 694.8,321.3 695.2,322.2 695.0,322.5 696.0,321.9 695.9,324.0 697.0,323.9 697.5,324.4
698.8,324.3 698.5,323.2 699.7,322.7 699.4,321.6 700.2,321.0 700.7,320.2 700.4,319.1 701.0,318.4 701.2,317.5 700.8,316.5 701.3,315.7 701.8,314.9
702.7,314.2 703.3,313.4 702.6,312.3 702.6,311.4 703.1,310.6 703.1,310.0 703.1,309.2 704.1,309.3 705.0,309.0 705.6,308.8 706.1,308.6 705.5,307.6
706.1,306.8 705.7,305.8 705.7,304.9 705.6,304.0 705.9,303.1 706.8,302.3 707.0,301.4 706.4,300.5 706.9,299.4 707.6,299.5 708.3,300.3 709.2,300.6
710.0,300.0 710.0,301.1 710.8,302.0 710.5,302.9 710.1,303.8 710.3,304.7 710.9,305.6 711.2,306.5 711.1,307.4 710.6,308.1 711.0,307.1 711.1,306.2
711.0,305.2 711.4,304.4 711.6,303.5 712.1,302.7 712.4,301.9 712.3,300.9 712.2,299.9 712.7,299.1 712.6,298.2 713.1,297.5 713.4,296.5 713.1,295.5
714.0,294.8 713.9,293.9 714.4,293.1 714.7,292.2 715.0,291.2 716.2,291.3 716.0,289.9 716.0,288.7 717.7,289.0 717.5,288.2 717.6,288.6 718.0,289.4
718.5,290.2 718.5,291.2 719.1,291.9 719.4,292.8 719.9,293.5 719.7,294.6 720.4,295.3 720.0,296.2 720.7,297.0 721.2,297.8 721.2,298.8 722.0,299.4
722.8,300.0 722.0,301.4 723.1,301.8 723.8,301.0 723.5,300.0 724.2,299.3 723.7,298.2 724.4,297.4 724.4,296.5 725.2,295.8 725.4,294.9 726.0,294.2
725.6,293.2 726.6,293.1 727.6,293.5 728.3,292.6 729.3,292.7 730.0,292.4 730.4,291.4 730.8,290.6 731.2,289.7 732.1,289.3 733.1,288.8 733.0,288.0
733.4,287.2 733.4,286.2 733.5,285.4 733.8,284.5 734.0,283.6 733.8,282.7 734.1,281.8 734.7,281.0 734.9,280.1 735.3,279.3 735.0,278.8 735.2,278.2
735.8,277.5 737.0,277.6 737.5,276.9 737.8,276.0 737.5,275.0 738.1,274.2 738.5,273.4 738.2,272.4 738.8,271.9 738.6,271.5 739.1,270.7 738.9,269.5
740.0,269.2 740.6,268.8 740.9,268.5 740.6,267.6 740.8,266.7 740.9,265.8 741.3,265.0 741.3,264.1 741.2,263.1 741.6,262.3 742.1,261.4 741.9,260.5
741.9,259.7 742.9,259.8 743.8,259.6 744.4,260.0 744.6,260.3 744.6,261.2 744.4,262.1 744.8,263.0 744.9,263.9 745.1,264.7 744.7,265.7 744.8,266.6
745.0,267.5 745.1,268.4 745.1,269.3 745.2,270.2 745.8,271.0 745.9,271.9 745.6,272.8 745.7,273.7 745.9,274.3 746.2,274.0 746.0,273.1 746.4,272.2
746.5,271.3 746.6,270.5 746.7,269.6 746.8,268.7 747.1,267.8 747.1,266.9 747.5,266.0 747.7,265.2 748.4,264.4 748.5,263.5 748.9,262.7 748.5,262.0
748.6,261.7 749.0,260.8 749.0,259.9 749.1,259.0 748.7,258.0 749.1,257.2 749.4,256.3 749.6,255.5 749.8,254.6 750.2,253.7 749.9,252.8 750.0,251.9
750.2,251.0 750.5,250.1 751.0,249.3 751.0,248.4 751.0,247.5 751.0,247.2 751.4,247.7 751.2,248.8 751.2,249.7 751.9,250.4 752.4,251.2 752.6,251.8
752.9,251.7 753.8,251.2 753.6,250.2 753.8,251.2 753.9,252.1 754.8,252.9 754.9,253.8 754.6,254.8 753.6,253.6 755.3,253.2 754.9,252.1 754.7,251.1
755.8,250.5 756.8,250.3 757.5,250.7 757.7,251.7 757.8,252.6 757.6,253.5 757.7,254.4 757.8,255.3 758.1,256.2 758.1,257.1 758.1,258.0 758.4,258.8
758.8,259.7 758.6,260.6 759.1,261.5 759.3,262.4 759.0,263.0 759.3,263.3 759.3,264.2 759.2,265.1 759.8,265.9 759.6,266.8 759.5,267.8 759.9,268.6
760.1,269.5 760.1,270.4 760.4,271.3 760.4,272.2 760.5,273.3 761.6,273.4 761.8,272.4 762.4,271.7 762.6,270.6 762.7,269.4 764.1,269.6 764.5,269.2
764.7,269.5 765.1,270.4 765.3,271.2 765.0,272.2 765.5,273.0 765.8,273.9 765.6,274.9 765.8,275.7 766.1,276.6 766.5,277.4 766.7,278.3 766.6,279.2
766.8,280.1 766.9,281.0 766.9,282.5 767.8,282.7 769.1,282.6 769.4,283.1 769.5,282.6 770.5,282.5 771.9,282.9 771.9,281.3 771.7,282.3 772.3,283.0
772.1,284.0 772.5,284.9 772.9,285.7 773.0,286.6 773.6,287.3 773.6,288.3 774.5,289.0 774.4,290.0 774.8,290.7 774.7,291.7 774.9,292.6 774.5,293.6
775.5,294.3 775.8,295.1 776.2,296.2 776.3,296.9 777.1,297.5 777.4,298.4 778.7,298.6 778.6,299.7 778.8,300.6 779.6,299.9 779.0,298.6 780.3,298.3
780.1,297.2 780.9,296.6 781.2,295.7 781.3,296.6 781.7,297.4 780.9,298.5 781.9,299.2 782.5,300.1 782.5,301.0 782.3,301.9 782.6,302.8 782.5,303.8
782.4,304.6 782.8,305.5 782.7,306.4 783.0,307.3 782.7,308.2 782.4,309.1 782.5,310.0 782.5,310.9 783.2,311.8 782.9,312.7 783.1,313.8 783.6,314.2
784.9,314.2 785.1,315.3 785.7,316.0 786.2,316.8 787.1,316.6 788.0,316.4 788.1,315.7 788.0,316.2 788.1,317.2 788.1,318.1 788.7,318.9 789.3,319.6
790.2,320.2 790.7,321.0 790.4,321.8 790.3,320.6 790.9,319.8 791.4,319.0 792.2,318.3 791.9,317.3 792.4,316.5 791.5,315.3 792.5,315.0 792.5,314.6
792.9,313.8 793.7,313.2 793.5,312.2 794.8,311.7 795.0,310.8 795.0,309.8 795.3,309.0 795.9,308.2 795.6,307.6 795.5,308.3 796.4,308.6 796.6,309.7
798.0,309.7 798.4,310.5 799.5,310.7 799.4,311.8 799.7,310.8 800.0,310.0 800.4,309.1 800.3,308.2 800.9,307.4 801.1,306.5 801.5,305.7 801.9,304.9
802.1,304.0 802.2,303.1 801.8,302.0 802.5,301.2 802.8,300.1 804.0,300.4 805.0,300.3 805.5,299.4 806.2,299.4 806.2,299.8 807.0,300.3 807.0,301.4
807.8,301.9 807.5,303.2 809.3,303.0 809.4,303.8 809.4,304.9 809.8,305.8 809.6,306.7 809.5,307.7 809.9,308.5 809.9,309.4 810.0,310.3 809.9,311.2
809.8,312.1 810.2,313.0 810.3,313.9 810.8,314.8 810.4,315.7 810.6,316.2 810.9,315.9 810.7,314.9 810.9,314.0 811.2,313.2 811.3,312.3 811.1,311.3
811.3,310.5 811.5,309.6 811.7,308.7 812.0,307.8 811.5,306.8 812.2,306.0 812.4,305.2 812.5,304.3 813.1,303.4 812.8,302.5 812.4,301.5 812.6,300.6
813.1,300.0 813.7,299.1 815.3,299.3 814.6,297.4 815.1,296.6 816.2,296.5 816.9,296.2 816.6,295.0 817.5,294.2 817.0,293.2 817.8,292.5 817.6,291.5
817.4,290.6 818.1,289.8 818.1,289.4 818.6,289.9 819.5,289.7 820.4,290.9 821.3,290.4 822.2,290.0 823.1,290.0 823.8,289.4 825.5,289.4 824.8,291.2
825.5,291.7 826.1,292.5 826.9,293.1 826.7,294.0 826.6,295.0 827.2,295.7 827.6,296.6 827.8,297.4 828.4,298.2 828.8,298.8 828.4,300.3 829.6,300.6
830.7,301.0 831.3,301.7 831.9,302.4 831.9,303.7 831.9,303.0 832.0,302.1 832.5,301.3 832.6,300.4 833.0,299.6 833.1,298.7 833.2,297.8 833.1,296.8
833.7,296.0 833.7,295.1 834.1,294.3 833.9,293.3 834.5,292.5 834.5,291.6 834.6,290.7 835.0,290.0 835.8,289.2 836.5,289.2 837.5,289.4 837.9,289.6
837.6,290.6 837.6,291.5 838.7,292.1 839.4,292.9 838.9,293.9 839.3,294.8 840.1,295.5 839.4,296.2 839.8,296.1 840.7,296.0 841.6,296.0 842.5,296.2
842.0,295.0 843.4,294.6 843.3,293.6 843.7,292.8 843.8,291.9 844.2,291.1 845.3,290.5 845.0,290.0 845.1,289.5 845.7,288.7 846.1,287.9 846.9,287.3
847.3,286.5 847.1,285.4 847.5,284.4 847.6,285.7 849.0,285.0 849.3,286.4 850.0,285.6 849.9,285.0 849.7,284.1 850.3,283.2 850.1,282.3 850.1,281.4
850.2,280.5 850.3,279.6 850.0,278.7 850.0,277.8 850.5,276.9 850.6,276.0 850.2,275.1 850.5,274.2 850.6,273.3 850.6,272.5 850.5,271.3 851.3,270.7
851.9,270.0 852.6,269.4 853.7,269.0 853.1,268.2 853.6,268.4 854.2,269.2 855.8,268.8 855.6,270.6 855.0,269.4 856.7,269.4 856.5,268.3 857.1,267.5
858.0,267.1 858.9,266.6 858.8,265.7 860.1,265.6 860.8,265.9 861.7,266.3 862.5,266.9 862.8,267.7 863.0,268.6 863.0,269.5 863.0,270.4 863.4,271.2
863.3,272.2 863.3,273.1 863.2,274.0 863.5,274.9 863.0,275.8 863.5,276.7 863.8,277.5 864.7,277.9 865.4,278.5 867.1,278.1 866.2,279.9 866.8,278.6
868.1,278.8 868.8,279.4 868.5,280.4 868.8,281.2 868.8,282.2 868.6,283.2 869.2,283.9 869.1,284.9 870.0,285.6 870.1,286.5 870.0,286.8 870.6,286.5
871.0,285.6 871.3,284.8 872.7,284.7 872.8,283.7 873.8,283.3 873.8,282.5 873.2,281.9 873.5,281.0 873.6,280.1 875.0,279.8 875.5,279.0 875.0,277.7
876.0,277.2 876.1,276.3 876.9,276.2 876.6,275.7 877.4,274.9 878.2,274.2 878.1,273.2 877.4,272.1 878.1,271.3 878.3,272.1 878.4,273.0 878.9,273.8
878.7,274.8 878.9,275.7 879.0,276.5 879.3,277.4 879.6,278.3 879.8,279.1 879.5,280.1 880.1,280.9 880.0,281.2 880.1,281.8 880.4,282.7 880.6,283.6
880.4,284.5 880.3,285.4 880.5,286.3 880.6,287.2 881.0,288.1 881.5,288.9 881.3,289.8 881.4,290.7 881.5,291.2 882.0,290.9 881.8,289.9 882.1,289.1
882.1,288.1 882.7,287.4 883.2,286.5 883.1,285.6 883.3,284.7 883.7,283.9 883.8,283.0 883.9,282.1 884.4,281.3 884.4,280.7 884.4,281.0 884.5,281.9
884.7,282.8 885.0,283.7 885.0,284.6 885.3,285.5 885.3,286.4 885.7,287.2 886.0,288.1 886.0,289.0 886.1,289.9 885.9,290.8 886.5,291.6 886.9,292.5
887.0,293.4 886.9,293.7 887.5,292.1 888.4,293.2 889.3,292.8 890.0,293.8 891.1,293.6 892.0,292.7 893.1,293.7 892.9,292.9 893.6,292.2 893.5,291.2
893.6,290.3 894.0,289.5 893.8,288.5 894.8,287.8 894.7,286.9 895.1,286.1 895.0,285.0 894.9,284.1 895.1,283.2 895.7,282.5 895.7,281.5 896.5,280.9
896.9,280.7 896.9,281.3 896.6,282.3 897.9,282.9 897.8,283.9 897.6,284.8 898.1,285.7 897.9,286.6 898.8,287.5 898.6,288.7 900.4,288.2 901.0,288.9
901.3,289.9 901.9,290.6 902.6,291.3 902.5,292.2 903.1,293.0 903.9,293.7 903.6,294.7 903.8,295.6 903.8,296.6 903.8,297.5 904.6,297.8 905.7,297.8
906.2,298.7 906.0,297.5 907.1,297.1 906.5,295.8 907.6,295.4 908.3,294.7 908.9,294.0 909.3,293.2 909.5,292.3 910.0,291.9 910.1,292.2 910.0,293.2
910.2,294.1 911.8,294.4 911.5,295.5 911.8,296.4 912.4,297.1 912.5,297.5 912.7,298.0 912.7,298.9 912.7,299.8 913.3,300.6 913.2,301.5 913.1,302.5
913.3,303.4 914.7,303.9 914.4,305.0 914.7,305.8 914.9,306.7 914.9,307.6 914.6,308.5 914.6,309.4 915.0,310.3 914.8,311.2 914.8,312.1 914.6,313.0
915.0,313.9 915.2,314.8 915.0,315.7 914.7,316.7 915.1,317.5 915.5,318.4 915.3,319.3 915.8,320.2 915.7,321.1 915.9,322.0 915.6,322.4 915.5,321.9
916.2,321.1 916.1,320.2 916.2,319.3 916.2,318.3 916.3,317.4 917.1,316.7 917.1,315.8 917.3,314.9 917.5,314.0 918.0,313.2 918.0,312.3 917.8,311.3
918.1,310.7 919.1,311.5 918.6,312.7 919.0,313.5 919.5,314.3 920.2,315.0 919.8,316.1 920.3,316.9 920.6,317.4 920.8,317.1 921.9,317.6 922.6,316.8
923.1,316.9 924.2,316.6 923.5,318.3 924.4,318.7 924.4,319.8 924.9,320.6 925.7,321.1 926.0,322.0 926.9,321.8 926.9,321.1 927.4,320.3 928.1,319.7
928.7,319.1 929.1,318.3 930.2,318.0 930.7,317.2 931.2,316.3 931.8,316.8 931.0,318.2 932.5,318.5 932.6,319.5 933.8,319.8 933.2,321.2 934.0,321.8
934.4,322.5 934.7,323.4 935.6,324.2 935.2,325.2 936.0,325.9 935.0,327.1 935.1,328.0 935.3,328.8 935.5,329.7 936.2,330.0 936.3,330.6 936.7,331.6
937.6,332.0 938.9,331.6 939.8,332.0 940.3,332.9 940.6,333.1 940.7,332.6 940.7,331.7 941.2,330.9 941.5,330.0 941.6,329.1 942.3,328.4 941.8,327.3
942.5,326.9 942.9,326.9 943.0,325.7 943.3,324.7 943.9,324.1 945.4,324.3 945.5,323.1 946.2,323.2 946.7,323.2 947.9,322.7 947.9,325.0 949.2,324.3
950.0,324.9 950.2,324.1 950.0,323.2 950.5,322.3 950.0,321.4 950.2,320.5 950.6,319.6 950.6,318.7 950.4,317.8 950.9,316.9 950.8,316.0 950.9,315.1
950.8,314.2 950.6,313.3 950.9,312.4 951.0,311.5 951.2,311.2 951.0,310.5 952.0,310.0 951.5,308.8 952.1,308.0 952.4,307.2 952.7,306.4 953.7,305.8
953.0,304.5 953.5,303.8 954.4,303.8 954.6,304.4 955.5,304.8 955.9,305.6 956.8,306.0 957.2,306.9 958.1,307.4 958.2,306.6 958.5,305.7 958.8,304.9
958.7,303.9 959.0,303.1 959.0,302.2 959.2,301.3 959.9,300.5 959.8,299.6 959.9,298.7 960.5,297.9 960.0,296.8 960.6,296.2 960.9,295.1 961.5,294.4
961.9,293.6 963.3,293.6 963.8,292.5 963.5,291.7 964.5,291.1 964.2,290.0 964.8,289.3 966.1,288.8 965.7,287.7 966.5,287.0 966.8,286.2 966.2,285.7
965.4,286.8 965.8,287.6 967.5,287.8 967.6,288.7 967.7,289.7 968.3,290.4 968.8,291.2 968.9,290.3 969.3,289.5 969.6,288.6 969.5,287.7 969.5,286.8
969.8,285.9 970.2,285.1 970.1,284.1 970.3,283.3 969.9,282.3 970.6,281.9 970.9,281.6 971.9,281.8 972.8,281.9 973.8,281.3 974.3,282.0 975.0,282.6
976.2,282.2 976.8,283.0 978.2,282.2 978.6,283.4 978.8,283.8 978.7,284.4 979.5,285.1 979.5,286.0 980.0,286.8 980.0,287.8 980.5,288.6 980.6,289.5
981.1,290.3 981.1,291.2 981.1,292.1 981.2,292.5 981.8,292.8 981.6,293.9 981.5,294.8 981.3,295.8 981.7,296.6 982.2,297.4 982.5,298.3 983.1,298.8
984.3,298.9 985.1,298.0 986.0,297.5 986.9,298.7 987.4,297.9 988.1,297.3 987.7,296.0 988.0,295.2 989.0,294.7 989.4,293.9 990.4,293.4 990.0,292.5
990.4,292.2 989.9,291.3 990.3,290.4 990.1,289.5 991.0,288.7 990.6,287.7 990.9,286.9 990.7,285.9 990.8,285.0 991.2,284.4 992.3,284.0 993.4,284.0
994.0,283.3 993.8,282.5 993.8,281.9 993.2,281.0 993.7,280.1 994.2,279.2 994.0,278.3 993.7,277.4 993.9,276.5 993.7,275.6 993.7,274.7 994.4,273.8
994.5,272.4 995.2,271.8 996.3,271.8 997.2,271.6 998.1,271.3 998.8,270.7 999.6,271.3 1000.1,272.0 1000.5,272.8 1001.0,273.6 1001.6,274.3 1001.2,274.9
1001.9,274.8 1001.9,273.6 1003.4,273.7 1004.1,273.1 1004.2,272.0 1004.4,271.2 1004.7,270.2 1004.9,269.3 1005.2,268.4 1005.6,267.6 1005.4,266.7 1005.8,265.8
1005.5,264.8 1005.6,263.9 1006.3,263.1 1006.5,262.3 1006.2,261.9 1007.5,262.6 1007.8,261.5 1008.4,260.9 1008.7,259.8 1009.4,259.4 1009.6,260.4 1009.3,261.4
1009.9,262.2 1010.2,263.1 1009.9,264.0 1010.3,264.9 1010.5,265.7 1010.5,266.6 1010.5,267.6 1010.4,268.5 1010.6,268.8 1011.2,269.0 1010.9,270.4 1012.3,270.4
1012.5,271.2 1013.5,270.9 1013.8,269.1 1015.0,270.1 1016.3,270.6 1017.2,271.2 1016.9,272.3 1016.9,273.3 1017.0,274.3 1017.5,274.9 1018.6,274.9 1019.3,275.7
1020.0,275.7 1020.1,276.8 1021.1,277.5 1021.4,278.3 1021.2,279.3 1021.3,280.3 1021.4,281.2 1021.6,282.0 1021.9,282.4 1022.4,282.1 1023.2,281.4 1022.5,280.2
1023.2,279.5 1023.0,278.5 1023.3,277.6 1023.8,277.5 1024.3,277.0 1024.9,276.2 1025.3,275.4 1025.2,274.4 1025.6,273.6 1024.6,272.4 1025.5,271.7 1025.6,270.7
1025.7,271.5 1026.1,272.3 1026.7,273.0 1027.7,273.6 1028.1,274.4 1028.4,275.3 1028.5,276.2 1028.1,276.8 1028.6,276.8 1029.3,276.1 1030.0,275.7 1030.3,276.7
1030.7,277.5 1030.5,278.5 1030.6,279.4 1031.6,280.0 1031.7,280.9 1031.8,281.8 1031.7,282.8 1032.6,283.5 1032.7,284.4 1033.1,285.0 1033.4,286.1 1033.4,287.0
1033.7,287.8 1034.0,288.7 1034.3,289.5 1034.3,290.5 1034.4,291.3 1034.4,292.3 1034.3,293.2 1034.6,294.1 1035.0,295.0 1035.8,295.5 1035.6,296.6 1035.9,297.4
1036.1,298.3 1037.2,298.8 1036.9,299.3 1036.5,298.5 1037.0,297.8 1037.5,297.0 1038.0,296.2 1038.0,295.2 1038.0,294.3 1038.6,293.5 1038.9,292.7 1039.5,291.9
1039.4,291.2 1040.4,290.6 1041.4,291.2 1042.5,290.7 1043.1,291.0 1043.0,292.8 1044.8,291.7 1044.8,293.4 1046.2,293.1 1047.0,292.6 1047.2,291.7 1046.7,290.5
1047.2,289.8 1046.3,288.4 1048.1,288.1 1048.5,286.9 1049.5,287.1 1050.6,286.9 1050.5,287.7 1051.1,288.5 1050.9,289.4 1051.1,290.3 1051.3,291.2 1051.6,292.1
1051.6,293.0 1051.8,293.8 1052.2,294.7 1052.6,295.5 1052.6,296.4 1052.8,297.3 1052.5,298.3 1053.1,298.8 1053.3,299.1 1053.1,300.0 1053.5,300.9 1053.6,301.8
1053.8,302.6 1054.1,303.5 1053.9,304.4 1054.4,305.3 1054.5,306.2 1055.1,307.0 1054.9,307.9 1054.9,308.8 1055.0,309.3 1055.0,308.9 1055.4,308.0 1055.3,307.1
1055.5,306.2 1055.3,305.3 1055.7,304.4 1055.4,303.5 1055.7,302.6 1056.0,301.7 1056.3,300.9 1056.4,300.0 1056.6,299.1 1056.6,298.2 1056.6,297.3 1056.9,296.2
1056.9,295.5 1056.7,294.6 1057.0,293.7 1057.0,292.8 1057.0,291.9 1057.3,291.0 1057.4,290.1 1057.6,289.2 1057.7,288.4 1057.6,287.4 1057.6,286.5 1057.6,285.6
1057.7,284.7 1058.0,283.9 1057.7,282.9 1057.8,282.0 1057.8,281.1 1057.6,280.2 1058.0,279.3 1058.1,278.8 1058.4,278.7 1059.3,278.7 1060.0,278.8 1060.1,279.9
1060.6,280.8 1060.5,281.7 1060.6,282.6 1060.6,283.5 1060.4,284.4 1061.2,285.2 1061.3,286.1 1061.7,287.0 1061.5,287.9 1061.7,288.8 1062.1,289.6 1061.9,290.6
1062.4,289.8 1062.2,288.8 1062.6,288.0 1063.1,287.2 1063.5,286.4 1064.6,285.9 1063.6,284.5 1064.4,284.4 1064.6,284.9 1064.7,285.8 1064.7,286.8 1065.8,287.3
1066.1,288.2 1066.6,288.9 1066.4,290.0 1067.2,290.6 1067.5,291.2 1067.8,292.3 1068.3,293.1 1068.3,294.0 1069.0,294.7 1069.1,295.6 1069.1,296.6 1069.9,297.3
1070.0,298.1 1070.0,297.1 1070.4,296.2 1071.1,295.5 1070.8,294.5 1071.2,293.7 1071.3,292.8 1071.6,291.9 1072.1,291.1 1071.9,290.0 1073.1,289.9 1073.1,288.8
1072.1,287.0 1074.2,287.3 1074.4,286.2 1074.5,285.5 1075.1,284.7 1074.6,283.7 1075.3,282.9 1074.6,281.8 1075.5,281.1 1075.3,280.1 1075.7,279.3 1075.9,278.4
1076.2,277.5 1077.0,277.5 1077.9,277.6 1078.8,277.5 1080.1,277.0 1079.9,276.0 1080.6,275.3 1080.0,274.1 1080.8,273.4 1080.5,272.3 1081.2,271.9 1082.2,272.7
1082.7,273.5 1082.8,274.4 1083.4,275.2 1083.4,276.1 1083.1,276.9 1084.5,276.5 1084.5,277.5 1084.1,278.7 1083.5,280.1 1084.9,280.3 1085.6,281.2 1086.6,281.4
1087.0,282.2 1086.9,283.4 1088.5,283.3 1087.8,285.0 1088.8,285.6 1089.1,285.0 1089.5,284.2 1089.5,283.2 1089.5,282.3 1089.3,281.3 1089.6,280.4 1090.2,279.7
1091.3,279.0 1091.0,278.0 1091.1,278.9 1091.7,279.6 1091.3,280.7 1091.6,281.6 1092.2,282.3 1093.5,282.8 1093.2,283.9 1094.2,284.5 1093.8,285.6 1093.2,284.2
1093.9,283.6 1094.8,283.1 1096.0,282.7 1096.2,281.9 1097.2,282.3 1097.7,283.1 1098.4,283.7 1099.0,284.3 1098.5,285.9 1099.4,285.6 1099.8,286.1 1099.6,287.1
1100.0,287.9 1099.6,289.0 1100.4,289.7 1100.6,290.5 1101.4,291.2 1101.7,292.1 1101.7,293.0 1102.0,293.3 1102.6,293.3 1103.6,293.4 1104.3,292.9 1104.8,292.5"/>
<g stroke="#000" stroke-width="2.2">
<line x1="28" y1="562.1" x2="1184" y2="562.1" stroke-width="2.3"/>
<line x1="64.5" y1="562" x2="64.5" y2="574"/>
<line x1="170" y1="562" x2="170" y2="574"/>
<line x1="378.2" y1="562" x2="378.2" y2="574"/>
<line x1="586.2" y1="562" x2="586.2" y2="574"/>
<line x1="794.3" y1="562" x2="794.3" y2="574"/>
<line x1="1003" y1="562" x2="1003" y2="574"/>
</g>
<text class="tick" x="1167.26" y="165.9" textLength="43.98" lengthAdjust="spacingAndGlyphs">6%</text>
<text class="tick" x="1169.21" y="292.9" textLength="17.08" lengthAdjust="spacingAndGlyphs">4</text>
<text class="tick" x="1169.13" y="418.9" textLength="17.74" lengthAdjust="spacingAndGlyphs">2</text>
<text class="tick" x="1168.37" y="544.9" textLength="18.19" lengthAdjust="spacingAndGlyphs">0</text>
<g class="tick">
<text x="28.65" y="612.1" textLength="69.65" lengthAdjust="spacingAndGlyphs">2020</text>
<text x="138.41" y="612.1" textLength="62.7" lengthAdjust="spacingAndGlyphs">2021</text>
<text x="343.69" y="612.1" textLength="68.96" lengthAdjust="spacingAndGlyphs">2022</text>
<text x="551.68" y="612.1" textLength="69.05" lengthAdjust="spacingAndGlyphs">2023</text>
<text x="759.82" y="612.1" textLength="68.02" lengthAdjust="spacingAndGlyphs">2024</text>
<text x="968.51" y="612.1" textLength="68.51" lengthAdjust="spacingAndGlyphs">2025</text>
</g>
<text class="src" y="679.8"><tspan x="27.23" textLength="94.4" lengthAdjust="spacingAndGlyphs">Source:</tspan> <tspan x="127.08" textLength="132.83" lengthAdjust="spacingAndGlyphs">Bloomberg</tspan></text>
<text class="logo" x="1058.48" y="675.3" textLength="143.17" lengthAdjust="spacingAndGlyphs">Bloomberg</text>
</svg>
</body>
</html>
